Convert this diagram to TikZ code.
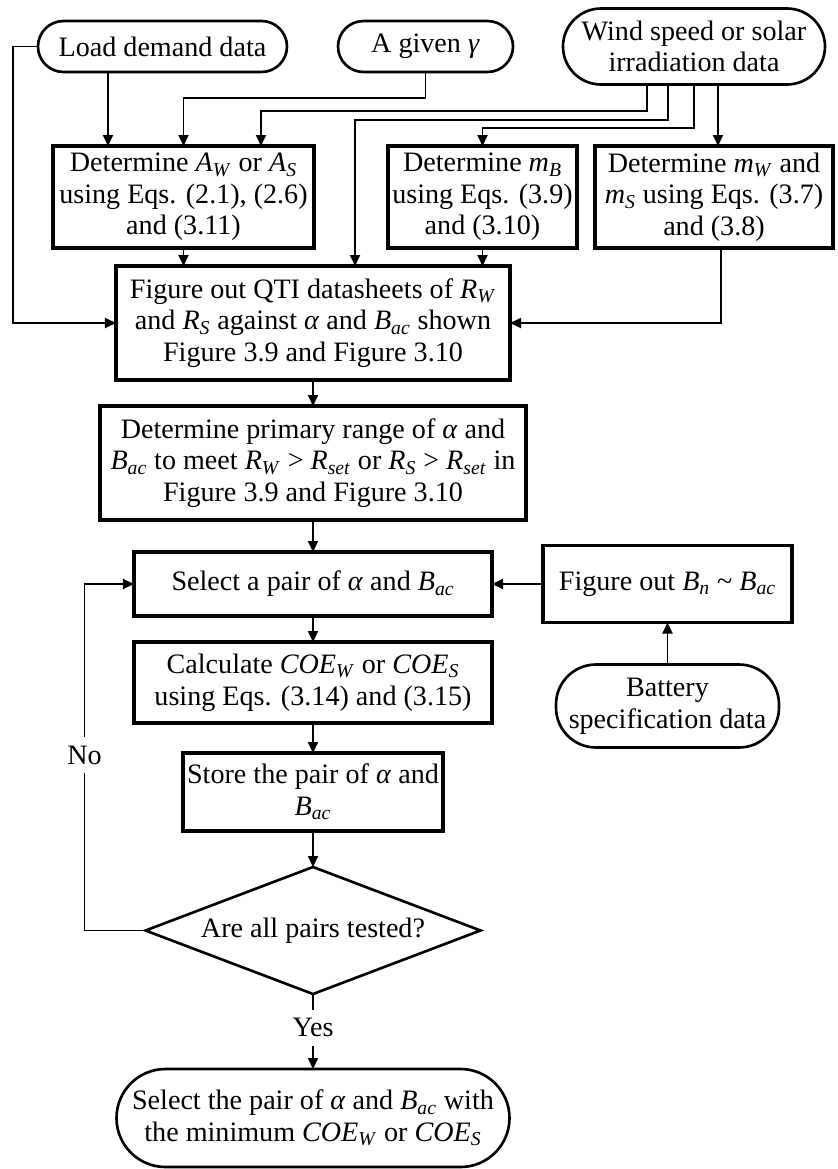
\documentclass[tikz,border=0pt]{standalone}
\usepackage{fontspec}
\setmainfont{Liberation Serif}
\usetikzlibrary{shapes.geometric, arrows.meta, positioning}
\newcommand{\varsub}[2]{\textit{#1}\textsubscript{\textit{#2}}}
\tikzset{
  block/.style = {rectangle, draw=black, line width=2pt, align=center, inner sep=0pt, outer sep=0pt, minimum height=20.4mm},
  terminal/.style = {rectangle, draw=black, line width=1.5pt, rounded corners=#1, align=center, inner sep=0pt, outer sep=0pt},
  terminal/.default = 5mm,
  decision/.style = {diamond, draw=black, line width=1.5pt, aspect=2.64, inner sep=0pt, outer sep=0pt, align=center, minimum width=67mm, minimum height=25.4mm},
  connector/.style = {line width=1.1pt, -{Triangle[length=2.2mm,width=2mm]}},
  answer/.style = {fill=white, inner sep=1.7mm}
}
\begin{document}
\begin{tikzpicture}[every node/.style={font=\fontsize{16}{18}\selectfont}]

  \useasboundingbox (-32.5mm,9.3mm) rectangle (134.9mm,-224.5mm);

  % Input data on top
  \node (load) [terminal=5.1mm, minimum width=49.8mm, minimum height=10.2mm] at (0,0) {Load demand data};
  \node (given) [terminal=5.1mm, minimum width=35mm, minimum height=10.2mm, right=10.2mm of load] {A given \textit{γ}};
  \node (wind) [terminal=7.6mm, minimum width=52.4mm, minimum height=15.2mm, right=10mm of given] {Wind speed or solar\\irradiation data};

  % Row of three blocks
  \node (area) [block, minimum width=52.2mm, below=14.8mm of load, xshift=4.2mm] {
    Determine \varsub{A}{W} or \varsub{A}{S}\\
    using Eqs. (2.1), (2.6)\\
    and (3.11)
  };
  \node (mbat) [block, minimum width=37.8mm, right=14.8mm of area] {
    Determine \varsub{m}{B}\\
    using Eqs. (3.9)\\
    and (3.10)
  };
  \node (mgen) [block, minimum width=47.6mm, right=3.6mm of mbat] {
    Determine \varsub{m}{W} and\\
    \varsub{m}{S} using Eqs. (3.7)\\
    and (3.8)
  };

  % QTI datasheets
  \node (qti) [block, minimum width=78.8mm, minimum height=22.8mm, below=3.6mm of area, xshift=25.9mm] {
    Figure out QTI datasheets of \varsub{R}{W}\\
    and \varsub{R}{S} against \textit{α} and \varsub{B}{ac} shown\\
    Figure 3.9 and Figure 3.10
  };

  % Primary range
  \node (range) [block, minimum width=85.2mm, minimum height=22.8mm, below=5.2mm of qti] {
    Determine primary range of \textit{α} and\\
    \varsub{B}{ac} to meet \varsub{R}{W} > \varsub{R}{set} or \varsub{R}{S} > \varsub{R}{set} in\\
    Figure 3.9 and Figure 3.10
  };

  % Loop over pairs
  \node (select) [block, minimum width=71.6mm, minimum height=12.8mm, below=6.4mm of range] {Select a pair of \textit{α} and \varsub{B}{ac}};
  \node (calc) [block, minimum width=71.6mm, minimum height=16.2mm, below=5.2mm of select] {
    Calculate \varsub{COE}{W} or \varsub{COE}{S}\\
    using Eqs. (3.14) and (3.15)
  };
  \node (store) [block, minimum width=52mm, minimum height=15.6mm, below=6mm of calc] {
    Store the pair of \textit{α} and\\
    \varsub{B}{ac}
  };
  \node (tested) [decision, below=7.2mm of store] {Are all pairs tested?};

  % Result
  \node (result) [terminal=9.8mm, minimum width=78.6mm, minimum height=19.6mm, below=15mm of tested] {
    Select the pair of \textit{α} and \varsub{B}{ac} with\\
    the minimum \varsub{COE}{W} or \varsub{COE}{S}
  };

  % Battery side
  \node (bn) [block, minimum width=49.8mm, minimum height=15.4mm, right=10.2mm of select] {Figure out \varsub{B}{n} \textasciitilde{} \varsub{B}{ac}};
  \node (battery) [terminal=8mm, minimum width=44.6mm, minimum height=16.6mm, below=8.4mm of bn] {Battery\\specification data};

  % Connections from the inputs
  \draw[connector] ([xshift=-10.9mm]load.south) -- ([xshift=-10.9mm]load.south |- area.north);
  \draw[connector] (given.south) |- ([yshift=9.6mm]area.north) -- (area.north);
  \draw[connector] ([xshift=-9.4mm]wind.south) |- ([xshift=15.5mm,yshift=7mm]area.north) -- ([xshift=15.5mm]area.north);
  \draw[connector] ([xshift=-5.2mm]wind.south) |- ([xshift=8.4mm,yshift=29.2mm]qti.north) -- ([xshift=8.4mm]qti.north);
  \draw[connector] (wind.south) |- ([yshift=3.6mm]mbat.north) -- (mbat.north);
  \draw[connector] ([xshift=4.8mm]wind.south) -- ([xshift=4.8mm]wind.south |- mgen.north);
  \draw[connector] (load.west) -- ++(-5mm,0) |- (qti.west);

  % Into QTI
  \draw[connector] (area.south) -- (area.south |- qti.north);
  \draw[connector] (mbat.south) -- (mbat.south |- qti.north);
  \draw[connector] ([xshift=1.4mm]mgen.south) |- (qti.east);

  % Main column
  \draw[connector] (qti) -- (range);
  \draw[connector] (range) -- (select);
  \draw[connector] (select) -- (calc);
  \draw[connector] (calc) -- (store);
  \draw[connector] (store) -- (tested);
  \draw[connector] (tested) -- node[answer, pos=0.45] {Yes} (result);
  \draw[connector] (tested.west) -- ++(-12.2mm,0) |- node[answer, pos=0.253] {No} (select.west);

  % Battery branch
  \draw[connector] (battery) -- (bn);
  \draw[connector] (bn) -- (select);

\end{tikzpicture}
\end{document}
